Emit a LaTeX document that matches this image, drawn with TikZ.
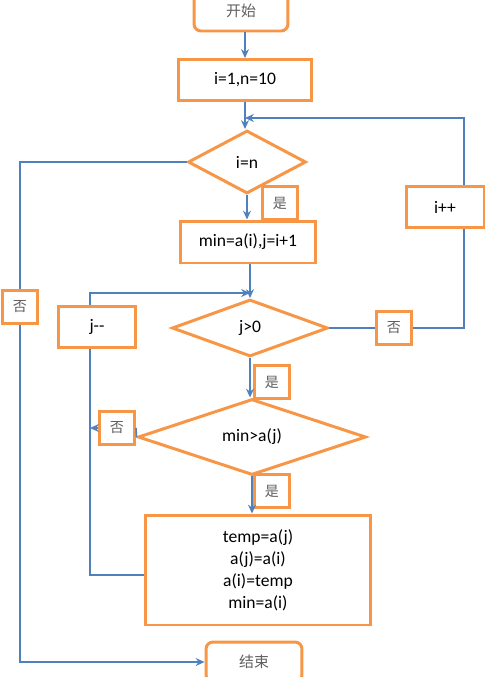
\documentclass[tikz,border=0pt]{standalone}
\usepackage{fontspec}
\setmainfont{Carlito}
\newfontfamily\cjk{Noto Sans CJK SC}
\usetikzlibrary{shapes.geometric,arrows.meta}

\definecolor{boxorange}{RGB}{247,150,70}
\definecolor{lineblue}{RGB}{79,129,189}
\definecolor{cjkgray}{RGB}{95,95,95}

\tikzset{
  box/.style={draw=boxorange,line width=1.7pt,fill=white,inner sep=0pt,
    font=\fontsize{10}{12.5}\selectfont},
  termbox/.style={box,rounded corners=4pt,text=cjkgray,font=\cjk\fontsize{8.5}{10}\selectfont},
  decision/.style={box,diamond},
  tagbox/.style={box,minimum width=0.7cm,minimum height=0.67cm,text=cjkgray,
    font=\cjk\fontsize{8}{10}\selectfont},
  flow/.style={draw=lineblue,line width=0.9pt},
  arrow/.style={flow,-{Stealth[length=5pt,width=4.5pt]}}
}

\begin{document}
\begin{tikzpicture}[x=0.02cm,y=-0.02cm]
  \useasboundingbox (0,0) rectangle (500,677);
  \clip (0,0) rectangle (500,677);

  % main column
  \node[termbox,minimum width=1.88cm,minimum height=0.8cm] (start) at (241,11) {开始};
  \node[box,minimum width=2.68cm,minimum height=0.82cm] (init) at (245,80) {i=1,n=10};
  \node[decision,minimum width=2.36cm,minimum height=1.26cm] (outer) at (247,162) {i=n};
  \node[box,minimum width=2.7cm,minimum height=0.84cm] (setmin) at (248,242) {min=a(i),j=i+1};
  \node[decision,minimum width=3.12cm,minimum height=1.14cm] (inner) at (250,328) {j>0};
  \node[decision,minimum width=4.56cm,minimum height=1.52cm] (cmp) at (252,437) {min>a(j)};
  \node[box,minimum width=4.5cm,minimum height=2.2cm,align=center] (swap) at (258,570)
    {temp=a(j)\\a(j)=a(i)\\a(i)=temp\\min=a(i)};
  \node[termbox,minimum width=1.92cm,minimum height=0.8cm] (stop) at (254,662) {结束};

  % side boxes
  \node[box,minimum width=1.56cm,minimum height=0.82cm] (incI) at (445,207) {i++};
  \node[box,minimum width=1.56cm,minimum height=0.82cm] (decJ) at (97,327) {j{-}{-}};
  \coordinate (loopR) at (464,118);
  \coordinate (loopL) at (90,575);
  \coordinate (joinJ) at (250,293);

  % branch labels
  \node[tagbox] (yes1) at (280,203) {是};
  \node[tagbox] (no1) at (20,307) {否};
  \node[tagbox] (no2) at (394,328) {否};
  \node[tagbox] (yes2) at (272,382) {是};
  \node[tagbox] (no3) at (117,428) {否};
  \node[tagbox] (yes3) at (272,491) {是};

  % connectors
  \draw[arrow] (init.north |- start.south) -- (init.north);
  \draw[arrow] (init.south) -- (init.south |- outer.north);
  \draw[arrow] (outer.south) -- (outer.south |- setmin.north);
  \draw[arrow] (setmin.south -| inner.north) -- (inner.north);
  \draw[arrow] (inner.south) -- (inner.south |- cmp.north);
  \draw[arrow] (cmp.south) -- (cmp.south |- swap.north);

  \draw[flow] (inner.east) -- (no2.west);
  \draw[flow] (no2.east) -| (incI.south -| loopR);
  \draw[arrow] (incI.north -| loopR) -- (loopR) -- (loopR -| init.south);

  \draw[flow] (outer.west) -| (no1.north);
  \draw[arrow] (no1.south) |- (stop.west);

  \draw[arrow] (decJ.north -| loopL) |- (joinJ);
  \draw[flow] (swap.west |- loopL) -- (loopL) -- (decJ.south -| loopL);
  \draw[flow] (cmp.west) -- (no3.east);
  \draw[arrow] (no3.west) -- (no3.west -| loopL);
\end{tikzpicture}
\end{document}
